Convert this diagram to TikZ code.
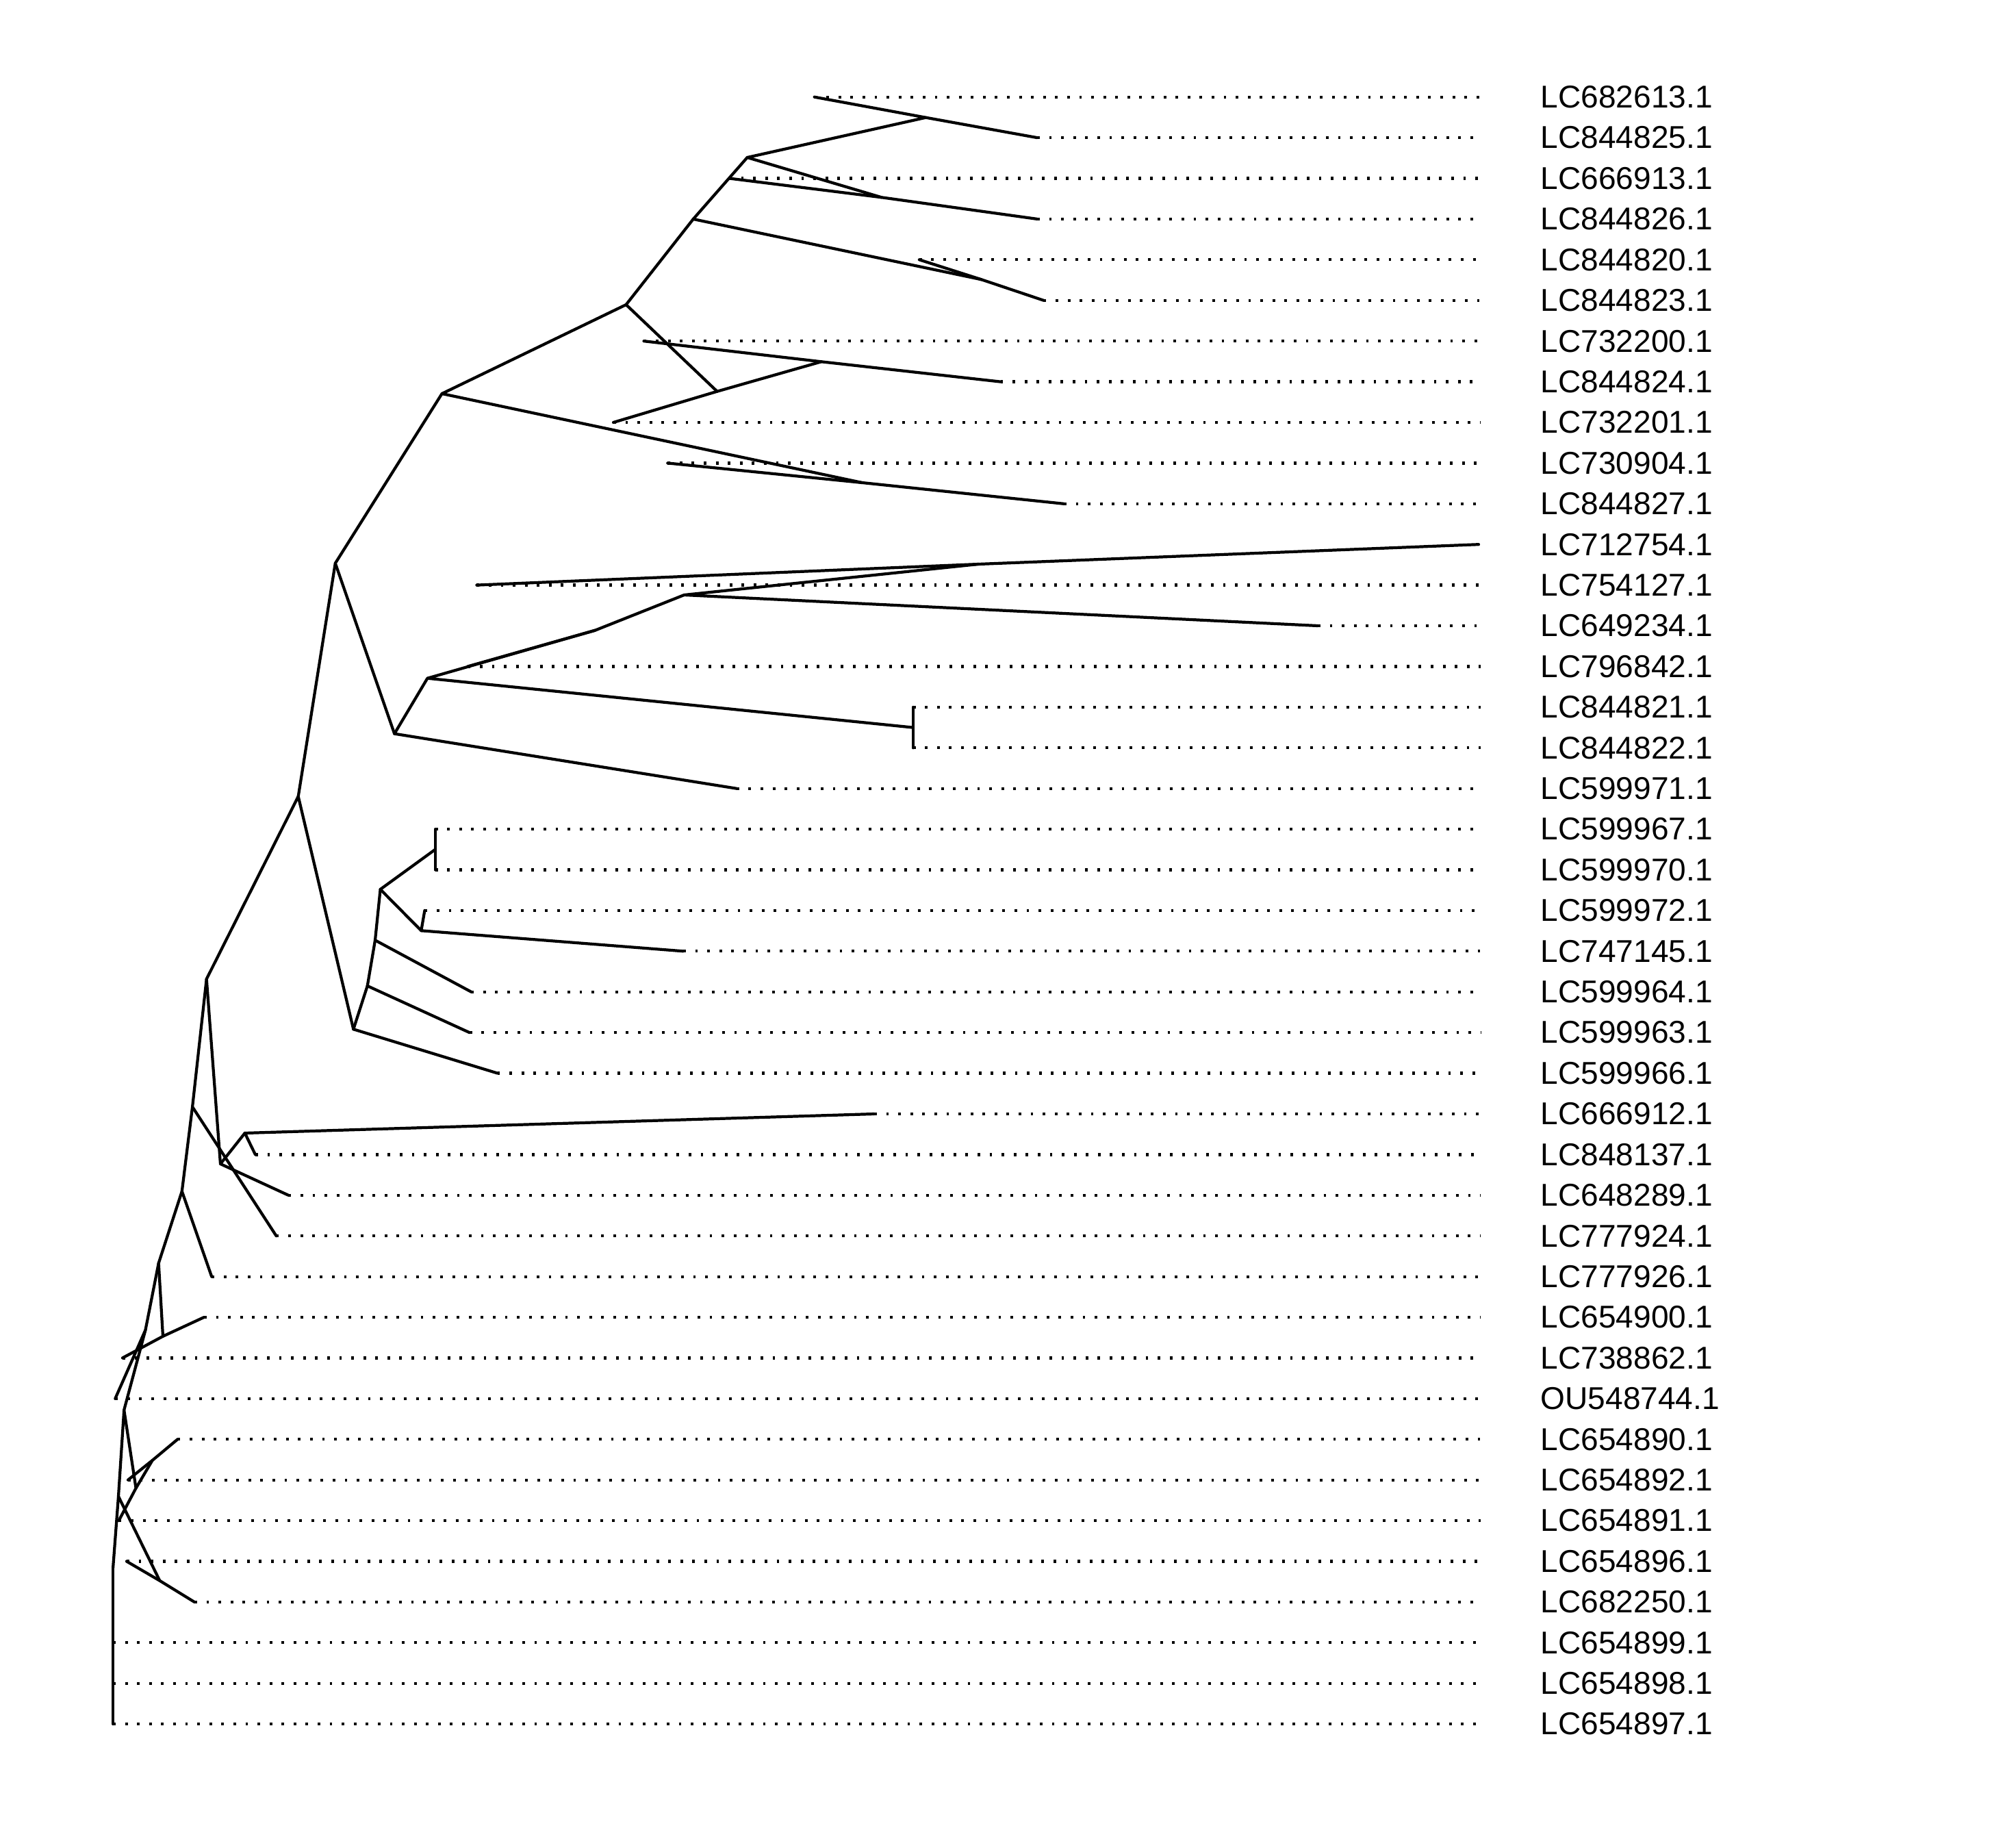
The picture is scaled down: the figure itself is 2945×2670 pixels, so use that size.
\documentclass[tikz,border=0pt]{standalone}
\usepackage{fontspec}
\setmainfont{Liberation Sans}
\usetikzlibrary{calc}

\begin{document}
\begin{tikzpicture}[x=0.01cm, y=-0.01cm,
  edge/.style={line width=1.2pt, line cap=round, line join=round},
  dots/.style={line width=1.2pt, dash pattern=on 1.1pt off 3.9pt},
  lbl/.style={anchor=west, inner sep=0pt, font=\fontsize{13.1}{15}\selectfont}
]
  \useasboundingbox (0,0) rectangle (2945,2670);
  \coordinate (dotend) at (2163,0);

  % tips
  \coordinate (t1)  at (1189.7, 141.7);
  \coordinate (t2)  at (1515.0, 201.1);
  \coordinate (t3)  at (1065.0, 260.5);
  \coordinate (t4)  at (1515.0, 319.9);
  \coordinate (t5)  at (1342.8, 379.3);
  \coordinate (t6)  at (1524.6, 438.8);
  \coordinate (t7)  at (940.5,  498.2);
  \coordinate (t8)  at (1461.5, 557.6);
  \coordinate (t9)  at (896.0,  617.0);
  \coordinate (t10) at (975.3,  676.4);
  \coordinate (t11) at (1554.0, 735.8);
  \coordinate (t12) at (2160.0, 795.2);
  \coordinate (t13) at (696.4,  854.6);
  \coordinate (t14) at (1925.0, 914.0);
  \coordinate (t15) at (683.4,  973.4);
  \coordinate (t16) at (1333.7, 1032.9);
  \coordinate (t17) at (1333.7, 1092.3);
  \coordinate (t18) at (1075.9, 1151.7);
  \coordinate (t19) at (635.7,  1211.1);
  \coordinate (t20) at (635.7,  1270.5);
  \coordinate (t21) at (620.4,  1329.9);
  \coordinate (t22) at (998.0,  1389.3);
  \coordinate (t23) at (688.3,  1448.7);
  \coordinate (t24) at (685.7,  1508.1);
  \coordinate (t25) at (726.5,  1567.5);
  \coordinate (t26) at (1277.0, 1627.0);
  \coordinate (t27) at (373.0,  1686.4);
  \coordinate (t28) at (421.4,  1745.8);
  \coordinate (t29) at (403.6,  1805.2);
  \coordinate (t30) at (309.2,  1864.6);
  \coordinate (t31) at (298.0,  1924.0);
  \coordinate (t32) at (179.0,  1983.4);
  \coordinate (t33) at (168.3,  2042.8);
  \coordinate (t34) at (259.5,  2102.2);
  \coordinate (t35) at (187.0,  2161.6);
  \coordinate (t36) at (173.5,  2221.1);
  \coordinate (t37) at (185.0,  2280.5);
  \coordinate (t38) at (284.0,  2339.9);
  \coordinate (t39) at (165.1,  2399.3);
  \coordinate (t40) at (165.1,  2458.7);
  \coordinate (t41) at (165.1,  2518.1);

  % labels
  \node[lbl] (l1)  at (2250, 141.7)  {LC682613.1};
  \node[lbl] (l2)  at (2250, 201.1)  {LC844825.1};
  \node[lbl] (l3)  at (2250, 260.5)  {LC666913.1};
  \node[lbl] (l4)  at (2250, 319.9)  {LC844826.1};
  \node[lbl] (l5)  at (2250, 379.3)  {LC844820.1};
  \node[lbl] (l6)  at (2250, 438.8)  {LC844823.1};
  \node[lbl] (l7)  at (2250, 498.2)  {LC732200.1};
  \node[lbl] (l8)  at (2250, 557.6)  {LC844824.1};
  \node[lbl] (l9)  at (2250, 617.0)  {LC732201.1};
  \node[lbl] (l10) at (2250, 676.4)  {LC730904.1};
  \node[lbl] (l11) at (2250, 735.8)  {LC844827.1};
  \node[lbl] (l12) at (2250, 795.2)  {LC712754.1};
  \node[lbl] (l13) at (2250, 854.6)  {LC754127.1};
  \node[lbl] (l14) at (2250, 914.0)  {LC649234.1};
  \node[lbl] (l15) at (2250, 973.4)  {LC796842.1};
  \node[lbl] (l16) at (2250, 1032.9) {LC844821.1};
  \node[lbl] (l17) at (2250, 1092.3) {LC844822.1};
  \node[lbl] (l18) at (2250, 1151.7) {LC599971.1};
  \node[lbl] (l19) at (2250, 1211.1) {LC599967.1};
  \node[lbl] (l20) at (2250, 1270.5) {LC599970.1};
  \node[lbl] (l21) at (2250, 1329.9) {LC599972.1};
  \node[lbl] (l22) at (2250, 1389.3) {LC747145.1};
  \node[lbl] (l23) at (2250, 1448.7) {LC599964.1};
  \node[lbl] (l24) at (2250, 1508.1) {LC599963.1};
  \node[lbl] (l25) at (2250, 1567.5) {LC599966.1};
  \node[lbl] (l26) at (2250, 1627.0) {LC666912.1};
  \node[lbl] (l27) at (2250, 1686.4) {LC848137.1};
  \node[lbl] (l28) at (2250, 1745.8) {LC648289.1};
  \node[lbl] (l29) at (2250, 1805.2) {LC777924.1};
  \node[lbl] (l30) at (2250, 1864.6) {LC777926.1};
  \node[lbl] (l31) at (2250, 1924.0) {LC654900.1};
  \node[lbl] (l32) at (2250, 1983.4) {LC738862.1};
  \node[lbl] (l33) at (2250, 2042.8) {OU548744.1};
  \node[lbl] (l34) at (2250, 2102.2) {LC654890.1};
  \node[lbl] (l35) at (2250, 2161.6) {LC654892.1};
  \node[lbl] (l36) at (2250, 2221.1) {LC654891.1};
  \node[lbl] (l37) at (2250, 2280.5) {LC654896.1};
  \node[lbl] (l38) at (2250, 2339.9) {LC682250.1};
  \node[lbl] (l39) at (2250, 2399.3) {LC654899.1};
  \node[lbl] (l40) at (2250, 2458.7) {LC654898.1};
  \node[lbl] (l41) at (2250, 2518.1) {LC654897.1};

  % dotted leaders
  \draw[dots] (t1)  -- (t1  -| dotend);
  \draw[dots] (t2)  -- (t2  -| dotend);
  \draw[dots] (t3)  -- (t3  -| dotend);
  \draw[dots] (t4)  -- (t4  -| dotend);
  \draw[dots] (t5)  -- (t5  -| dotend);
  \draw[dots] (t6)  -- (t6  -| dotend);
  \draw[dots] (t7)  -- (t7  -| dotend);
  \draw[dots] (t8)  -- (t8  -| dotend);
  \draw[dots] (t9)  -- (t9  -| dotend);
  \draw[dots] (t10) -- (t10 -| dotend);
  \draw[dots] (t11) -- (t11 -| dotend);
  \draw[dots] (t13) -- (t13 -| dotend);
  \draw[dots] (t14) -- (t14 -| dotend);
  \draw[dots] (t15) -- (t15 -| dotend);
  \draw[dots] (t16) -- (t16 -| dotend);
  \draw[dots] (t17) -- (t17 -| dotend);
  \draw[dots] (t18) -- (t18 -| dotend);
  \draw[dots] (t19) -- (t19 -| dotend);
  \draw[dots] (t20) -- (t20 -| dotend);
  \draw[dots] (t21) -- (t21 -| dotend);
  \draw[dots] (t22) -- (t22 -| dotend);
  \draw[dots] (t23) -- (t23 -| dotend);
  \draw[dots] (t24) -- (t24 -| dotend);
  \draw[dots] (t25) -- (t25 -| dotend);
  \draw[dots] (t26) -- (t26 -| dotend);
  \draw[dots] (t27) -- (t27 -| dotend);
  \draw[dots] (t28) -- (t28 -| dotend);
  \draw[dots] (t29) -- (t29 -| dotend);
  \draw[dots] (t30) -- (t30 -| dotend);
  \draw[dots] (t31) -- (t31 -| dotend);
  \draw[dots] (t32) -- (t32 -| dotend);
  \draw[dots] (t33) -- (t33 -| dotend);
  \draw[dots] (t34) -- (t34 -| dotend);
  \draw[dots] (t35) -- (t35 -| dotend);
  \draw[dots] (t36) -- (t36 -| dotend);
  \draw[dots] (t37) -- (t37 -| dotend);
  \draw[dots] (t38) -- (t38 -| dotend);
  \draw[dots] (t39) -- (t39 -| dotend);
  \draw[dots] (t40) -- (t40 -| dotend);
  \draw[dots] (t41) -- (t41 -| dotend);

  % internal nodes
  \coordinate (A)  at (1352.4, 171.7);
  \coordinate (D)  at (1287.8, 288.3);
  \coordinate (B)  at (1091.6, 230.0);
  \coordinate (F)  at (1433.7, 408.3);
  \coordinate (C)  at (1012.7, 320.0);
  \coordinate (I)  at (1199.8, 528.3);
  \coordinate (G)  at (1047.6, 571.7);
  \coordinate (E)  at (914.6,  445.0);
  \coordinate (J)  at (1259.4, 705.0);
  \coordinate (H)  at (645.6,  575.0);
  \coordinate (P)  at (1429.4, 824.0);
  \coordinate (N)  at (999.4,  869.0);
  \coordinate (O)  at (869.3,  920.7);
  \coordinate (Q)  at (1333.7, 1062.6);
  \coordinate (M)  at (624.4,  990.7);
  \coordinate (L)  at (576.2,  1071.7);
  \coordinate (K)  at (489.8,  822.7);
  \coordinate (W)  at (635.7,  1240.8);
  \coordinate (X)  at (615.3,  1359.3);
  \coordinate (V)  at (555.6,  1299.0);
  \coordinate (U)  at (548.0,  1373.3);
  \coordinate (T)  at (536.7,  1440.0);
  \coordinate (S)  at (516.3,  1503.3);
  \coordinate (R)  at (435.7,  1163.3);
  \coordinate (Y)  at (357.7,  1655.0);
  \coordinate (Z)  at (322.0,  1700.0);
  \coordinate (BB) at (301.7,  1430.0);
  \coordinate (AA) at (281.1,  1616.7);
  \coordinate (CC) at (265.8,  1740.0);
  \coordinate (EE) at (238.0,  1951.8);
  \coordinate (DD) at (231.7,  1845.0);
  \coordinate (GG) at (212.5,  1942.5);
  \coordinate (FF) at (181.2,  2059.5);
  \coordinate (JJ) at (222.6,  2133.0);
  \coordinate (HH) at (198.6,  2173.6);
  \coordinate (LL) at (233.3,  2308.7);
  \coordinate (KK) at (173.0,  2185.6);
  \coordinate (MM) at (165.1,  2290.0);

  % branches
  \draw[edge] (t1) -- (A) -- (t2);
  \draw[edge] (t3) -- (D) -- (t4);
  \draw[edge] (A) -- (B) -- (D);
  \draw[edge] (t5) -- (F) -- (t6);
  \draw[edge] (B) -- (C) -- (F);
  \draw[edge] (t7) -- (I) -- (t8);
  \draw[edge] (I) -- (G) -- (t9);
  \draw[edge] (C) -- (E) -- (G);
  \draw[edge] (t10) -- (J) -- (t11);
  \draw[edge] (E) -- (H) -- (J);
  \draw[edge] (t12) -- (P) -- (t13);
  \draw[edge] (P) -- (N) -- (t14);
  \draw[edge] (t15) -- (O) -- (N);
  \draw[edge] (t16) -- (Q) -- (t17);
  \draw[edge] (O) -- (M) -- (Q);
  \draw[edge] (M) -- (L) -- (t18);
  \draw[edge] (H) -- (K) -- (L);
  \draw[edge] (t19) -- (W) -- (t20);
  \draw[edge] (t21) -- (X) -- (t22);
  \draw[edge] (W) -- (V) -- (X);
  \draw[edge] (V) -- (U) -- (t23);
  \draw[edge] (U) -- (T) -- (t24);
  \draw[edge] (T) -- (S) -- (t25);
  \draw[edge] (K) -- (R) -- (S);
  \draw[edge] (t26) -- (Y) -- (t27);
  \draw[edge] (Y) -- (Z) -- (t28);
  \draw[edge] (R) -- (BB) -- (Z);
  \draw[edge] (BB) -- (AA) -- (t29);
  \draw[edge] (AA) -- (CC) -- (t30);
  \draw[edge] (t31) -- (EE) -- (t32);
  \draw[edge] (CC) -- (DD) -- (EE);
  \draw[edge] (DD) -- (GG);
  \draw[edge] (t33) -- (GG) -- (FF);
  \draw[edge] (t34) -- (JJ) -- (t35);
  \draw[edge] (JJ) -- (HH) -- (t36);
  \draw[edge] (HH) -- (FF) -- (KK);
  \draw[edge] (t37) -- (LL) -- (t38);
  \draw[edge] (LL) -- (KK) -- (MM);
  \draw[edge] (MM) -- (t41);
\end{tikzpicture}
\end{document}
